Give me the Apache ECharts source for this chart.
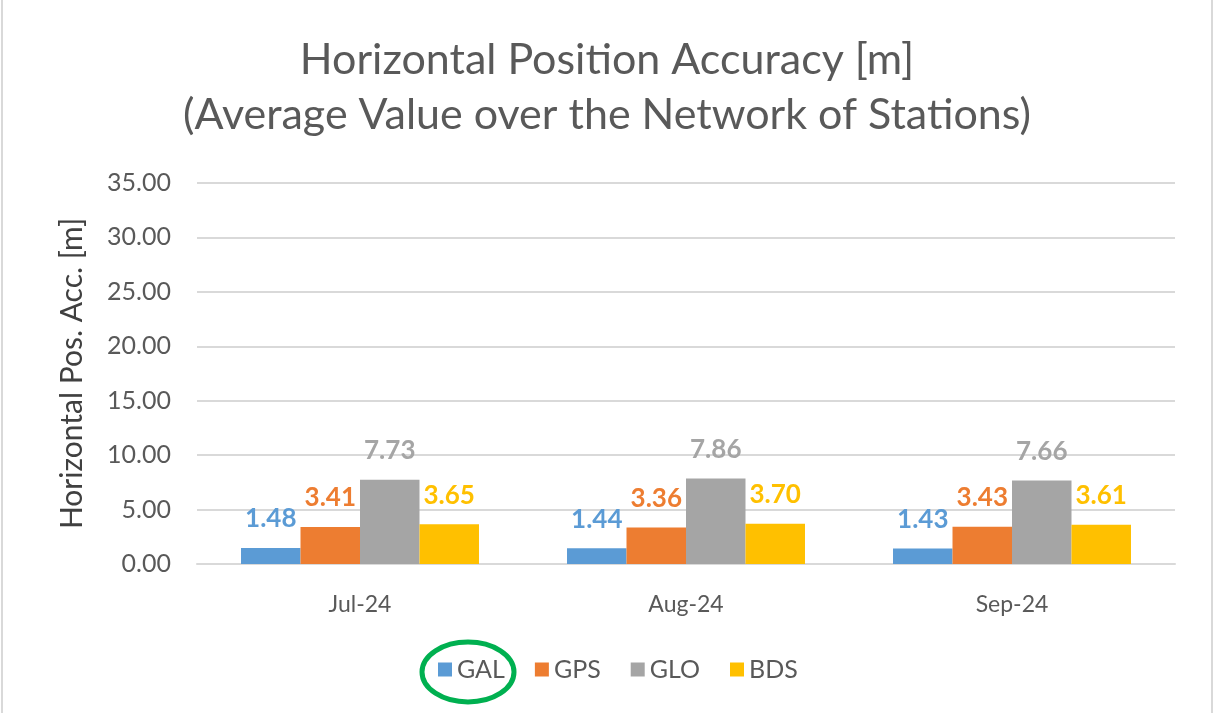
<!DOCTYPE html>
<html><head><meta charset="utf-8">
<script src="https://cdn.jsdelivr.net/npm/echarts@6/dist/echarts.min.js"></script>
<style>html,body{margin:0;padding:0;background:#fff}#c{width:1214px;height:713px}</style>
</head><body><div id="c"></div>
<script>
const categories = ['Jul-24', 'Aug-24', 'Sep-24'];
const GAL = [1.48, 1.44, 1.43];
const GPS = [3.41, 3.36, 3.43];
const GLO = [7.73, 7.86, 7.66];
const BDS = [3.65, 3.70, 3.61];
const seriesNames = ['GAL', 'GPS', 'GLO', 'BDS'];
const seriesData = [GAL, GPS, GLO, BDS];
const colors = ['#5B9BD5', '#ED7D31', '#A5A5A5', '#FFC000'];
const FONT = 'Lato';

const chart = echarts.init(document.getElementById('c'));
chart.setOption({
  backgroundColor: '#ffffff',
  animation: false,
  title: {
    text: 'Horizontal Position Accuracy [m]\n(Average Value over the Network of Stations)',
    left: 'center', top: 28,
    textStyle: { fontFamily: FONT, fontSize: 43, fontWeight: 'normal', color: '#595959', lineHeight: 55 }
  },
  grid: { left: 197, right: 39, top: 183, bottom: 149 },
  xAxis: {
    type: 'category', data: categories,
    axisLine: { lineStyle: { color: '#d9d9d9', width: 2 } },
    axisTick: { show: false },
    axisLabel: { fontFamily: FONT, fontSize: 23, color: '#595959', margin: 29 }
  },
  yAxis: {
    type: 'value', min: 0, max: 35, interval: 5,
    name: 'Horizontal Pos. Acc. [m]', nameLocation: 'middle', nameGap: 110,
    nameTextStyle: { fontFamily: FONT, fontSize: 30, color: '#404040' },
    axisLine: { show: false }, axisTick: { show: false },
    axisLabel: { fontFamily: FONT, fontSize: 25, color: '#595959', margin: 26, formatter: v => v.toFixed(2) },
    splitLine: { lineStyle: { color: '#d9d9d9', width: 2 } }
  },
  legend: {
    bottom: 26, left: 433, itemWidth: 14, itemHeight: 14, itemGap: 30,
    icon: 'rect',
    textStyle: { fontFamily: FONT, fontSize: 25, color: '#595959' },
    data: seriesNames
  },
  series: seriesNames.map((n, i) => ({
    name: n, type: 'bar', data: seriesData[i],
    barGap: '0%', barCategoryGap: '27%',
    itemStyle: { color: colors[i] },
    label: { show: true, position: 'top', distance: 16, fontFamily: FONT, fontSize: 26, fontWeight: 'bold', color: colors[i], formatter: p => p.value.toFixed(2) }
  })),
  graphic: [
    { type: 'rect', shape: { x: 2, y: -10, width: 1210, height: 740 }, style: { fill: 'none', stroke: '#d9d9d9', lineWidth: 2 }, silent: true },
    { type: 'ellipse', shape: { cx: 468, cy: 672, rx: 46, ry: 30 }, style: { fill: 'none', stroke: '#00B050', lineWidth: 5 }, silent: true }
  ]
});
</script></body></html>
